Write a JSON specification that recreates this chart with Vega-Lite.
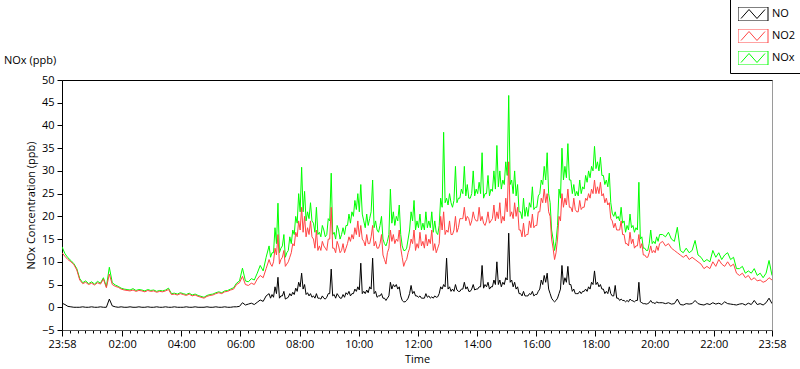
{
  "$schema": "https://vega.github.io/schema/vega-lite/v6.json",
  "width": 710,
  "height": 250,
  "autosize": {"type": "none"},
  "padding": {"left": 62, "top": 80, "right": 28, "bottom": 39},
  "background": "#ffffff",
  "title": {"text": "NOx (ppb)", "anchor": "start", "frame": "group", "dx": -58, "offset": -67, "fontSize": 11, "fontWeight": "normal", "font": "Open Sans", "color": "#000000"},
  "config": {
    "view": {"stroke": "#9a9a9a", "strokeWidth": 1},
    "font": "Open Sans",
    "axis": {"labelFont": "Open Sans", "labelFontSize": 11, "labelColor": "#000000", "titleFont": "Open Sans", "titleFontSize": 11, "titleFontWeight": "normal", "titleColor": "#000000", "tickColor": "#000000", "domainColor": "#000000", "grid": false, "labelOverlap": false},
    "axisY": {"labelOverlap": false},
    "legend": {"labelFont": "Open Sans", "labelFontSize": 11, "labelColor": "#000000"}
  },
  "data": {"values": [
    {"m":0,"NO":0.9,"NO2":12.0,"NOx":13.3},{"m":6,"NO":0.6,"NO2":11.2,"NOx":11.8},{"m":12,"NO":0.2,"NO2":10.5,"NOx":10.9},{"m":18,"NO":0.1,"NO2":10.0,"NOx":10.3},{"m":24,"NO":0.0,"NO2":9.4,"NOx":9.6},{"m":30,"NO":0.0,"NO2":8.2,"NOx":8.5},{"m":36,"NO":0.0,"NO2":6.0,"NOx":6.3},{"m":42,"NO":0.1,"NO2":5.2,"NOx":5.4},{"m":48,"NO":0.0,"NO2":5.5,"NOx":5.8},{"m":54,"NO":0.0,"NO2":5.0,"NOx":5.2},
    {"m":60,"NO":0.1,"NO2":5.3,"NOx":5.6},{"m":66,"NO":0.0,"NO2":4.9,"NOx":5.1},{"m":72,"NO":0.0,"NO2":5.4,"NOx":5.7},{"m":78,"NO":0.1,"NO2":5.1,"NOx":5.3},{"m":84,"NO":0.0,"NO2":6.2,"NOx":6.5},{"m":90,"NO":0.0,"NO2":4.3,"NOx":4.5},{"m":96,"NO":1.8,"NO2":7.3,"NOx":8.8},{"m":102,"NO":0.3,"NO2":5.0,"NOx":5.4},{"m":108,"NO":0.1,"NO2":4.6,"NOx":4.9},{"m":114,"NO":0.0,"NO2":4.4,"NOx":4.6},
    {"m":120,"NO":0.1,"NO2":4.0,"NOx":4.2},{"m":126,"NO":0.0,"NO2":3.8,"NOx":4.0},{"m":132,"NO":0.0,"NO2":3.7,"NOx":3.9},{"m":138,"NO":0.1,"NO2":3.6,"NOx":3.8},{"m":144,"NO":0.0,"NO2":3.8,"NOx":4.1},{"m":150,"NO":0.0,"NO2":3.5,"NOx":3.7},{"m":156,"NO":0.1,"NO2":3.7,"NOx":3.9},{"m":162,"NO":0.0,"NO2":3.6,"NOx":3.8},{"m":168,"NO":0.0,"NO2":3.4,"NOx":3.6},{"m":174,"NO":0.1,"NO2":3.7,"NOx":3.9},
    {"m":180,"NO":0.0,"NO2":3.5,"NOx":3.7},{"m":186,"NO":0.0,"NO2":3.6,"NOx":3.8},{"m":192,"NO":0.1,"NO2":3.3,"NOx":3.5},{"m":198,"NO":0.0,"NO2":3.5,"NOx":3.7},{"m":204,"NO":0.0,"NO2":3.4,"NOx":3.6},{"m":210,"NO":0.1,"NO2":3.6,"NOx":3.8},{"m":216,"NO":0.0,"NO2":3.9,"NOx":4.2},{"m":222,"NO":0.0,"NO2":2.8,"NOx":3.0},{"m":228,"NO":0.1,"NO2":2.9,"NOx":3.1},{"m":234,"NO":0.0,"NO2":2.7,"NOx":2.9},
    {"m":240,"NO":0.0,"NO2":3.0,"NOx":3.2},{"m":246,"NO":0.0,"NO2":2.8,"NOx":3.0},{"m":252,"NO":0.1,"NO2":2.6,"NOx":2.8},{"m":258,"NO":0.0,"NO2":2.9,"NOx":3.1},{"m":264,"NO":0.0,"NO2":2.5,"NOx":2.7},{"m":270,"NO":0.1,"NO2":2.7,"NOx":2.9},{"m":276,"NO":0.0,"NO2":2.4,"NOx":2.6},{"m":282,"NO":0.0,"NO2":2.2,"NOx":2.4},{"m":288,"NO":0.0,"NO2":2.0,"NOx":2.2},{"m":294,"NO":0.1,"NO2":2.4,"NOx":2.6},
    {"m":300,"NO":0.0,"NO2":2.6,"NOx":2.8},{"m":306,"NO":0.0,"NO2":2.7,"NOx":2.9},{"m":312,"NO":0.1,"NO2":3.0,"NOx":3.2},{"m":318,"NO":0.0,"NO2":3.2,"NOx":3.4},{"m":324,"NO":0.0,"NO2":3.0,"NOx":3.2},{"m":330,"NO":0.1,"NO2":3.4,"NOx":3.6},{"m":336,"NO":0.0,"NO2":3.5,"NOx":3.7},{"m":342,"NO":0.0,"NO2":3.8,"NOx":4.0},{"m":348,"NO":0.1,"NO2":4.0,"NOx":4.3},{"m":354,"NO":0.1,"NO2":5.0,"NOx":5.3},
    {"m":360,"NO":0.2,"NO2":5.4,"NOx":5.8},{"m":366,"NO":1.0,"NO2":6.8,"NOx":8.6},{"m":372,"NO":0.5,"NO2":5.0,"NOx":5.8},{"m":378,"NO":0.7,"NO2":4.8,"NOx":5.6},{"m":384,"NO":0.9,"NO2":5.3,"NOx":6.3},{"m":390,"NO":0.6,"NO2":5.0,"NOx":6.0},{"m":396,"NO":1.1,"NO2":6.2,"NOx":7.5},{"m":402,"NO":1.6,"NO2":7.0,"NOx":9.2},{"m":408,"NO":1.3,"NO2":6.5,"NOx":8.0},{"m":414,"NO":2.5,"NO2":8.5,"NOx":11.0},
    {"m":420,"NO":3.0,"NO2":10.5,"NOx":13.5},{"m":426,"NO":2.8,"NO2":9.0,"NOx":12.0},{"m":432,"NO":4.5,"NO2":13.0,"NOx":17.5},{"m":438,"NO":6.6,"NO2":16.0,"NOx":22.9},{"m":444,"NO":2.5,"NO2":10.5,"NOx":13.0},{"m":450,"NO":3.5,"NO2":12.5,"NOx":16.0},{"m":456,"NO":2.0,"NO2":9.5,"NOx":12.0},{"m":462,"NO":3.0,"NO2":11.0,"NOx":15.5},{"m":468,"NO":3.3,"NO2":14.0,"NOx":17.0},{"m":474,"NO":4.2,"NO2":16.5,"NOx":20.0},
    {"m":480,"NO":5.5,"NO2":19.0,"NOx":25.0},{"m":486,"NO":7.5,"NO2":22.0,"NOx":30.8},{"m":492,"NO":5.0,"NO2":20.0,"NOx":25.5},{"m":498,"NO":3.2,"NO2":17.5,"NOx":21.0},{"m":504,"NO":3.0,"NO2":19.0,"NOx":23.0},{"m":510,"NO":2.5,"NO2":15.0,"NOx":18.5},{"m":516,"NO":3.0,"NO2":17.0,"NOx":22.0},{"m":522,"NO":2.0,"NO2":13.5,"NOx":16.5},{"m":528,"NO":2.5,"NO2":14.5,"NOx":18.0},{"m":534,"NO":1.8,"NO2":13.0,"NOx":15.5},
    {"m":540,"NO":3.0,"NO2":15.0,"NOx":19.5},{"m":546,"NO":8.4,"NO2":22.0,"NOx":29.5},{"m":552,"NO":2.8,"NO2":13.0,"NOx":16.5},{"m":558,"NO":3.0,"NO2":14.5,"NOx":18.0},{"m":564,"NO":2.0,"NO2":12.0,"NOx":15.0},{"m":570,"NO":2.8,"NO2":14.0,"NOx":17.5},{"m":576,"NO":3.2,"NO2":13.0,"NOx":18.0},{"m":582,"NO":3.5,"NO2":15.5,"NOx":20.5},{"m":588,"NO":3.0,"NO2":16.0,"NOx":21.0},{"m":594,"NO":4.0,"NO2":17.5,"NOx":23.5},
    {"m":600,"NO":4.5,"NO2":19.0,"NOx":25.0},{"m":606,"NO":9.7,"NO2":18.0,"NOx":27.0},{"m":612,"NO":3.5,"NO2":14.5,"NOx":19.0},{"m":618,"NO":3.8,"NO2":16.0,"NOx":20.5},{"m":624,"NO":4.5,"NO2":14.0,"NOx":19.5},{"m":630,"NO":10.8,"NO2":18.0,"NOx":28.0},{"m":636,"NO":3.5,"NO2":14.5,"NOx":19.0},{"m":642,"NO":2.5,"NO2":13.0,"NOx":16.5},{"m":648,"NO":3.0,"NO2":16.0,"NOx":20.0},{"m":654,"NO":2.0,"NO2":10.5,"NOx":14.0},
    {"m":660,"NO":2.0,"NO2":12.0,"NOx":14.5},{"m":666,"NO":5.5,"NO2":17.0,"NOx":26.0},{"m":672,"NO":5.0,"NO2":16.0,"NOx":21.0},{"m":678,"NO":5.0,"NO2":15.0,"NOx":20.0},{"m":684,"NO":4.5,"NO2":17.0,"NOx":22.5},{"m":690,"NO":1.5,"NO2":11.0,"NOx":13.5},{"m":696,"NO":1.2,"NO2":10.0,"NOx":12.5},{"m":702,"NO":2.0,"NO2":12.0,"NOx":15.0},{"m":708,"NO":4.8,"NO2":15.0,"NOx":21.0},{"m":714,"NO":3.5,"NO2":17.0,"NOx":23.5},
    {"m":720,"NO":2.5,"NO2":14.0,"NOx":19.0},{"m":726,"NO":2.5,"NO2":16.5,"NOx":20.5},{"m":732,"NO":2.0,"NO2":14.5,"NOx":18.5},{"m":738,"NO":3.0,"NO2":16.0,"NOx":21.0},{"m":744,"NO":2.5,"NO2":15.0,"NOx":19.0},{"m":750,"NO":2.3,"NO2":17.0,"NOx":21.0},{"m":756,"NO":2.5,"NO2":14.0,"NOx":19.0},{"m":762,"NO":2.3,"NO2":13.0,"NOx":16.0},{"m":768,"NO":4.5,"NO2":20.0,"NOx":24.0},{"m":774,"NO":5.0,"NO2":21.0,"NOx":38.5},
    {"m":780,"NO":10.8,"NO2":17.0,"NOx":24.0},{"m":786,"NO":4.5,"NO2":19.0,"NOx":25.0},{"m":792,"NO":4.0,"NO2":16.0,"NOx":22.0},{"m":798,"NO":5.0,"NO2":20.0,"NOx":31.0},{"m":804,"NO":3.5,"NO2":17.5,"NOx":24.0},{"m":810,"NO":4.0,"NO2":19.5,"NOx":26.0},{"m":816,"NO":5.5,"NO2":22.0,"NOx":31.0},{"m":822,"NO":4.5,"NO2":20.0,"NOx":27.0},{"m":828,"NO":3.5,"NO2":18.0,"NOx":24.0},{"m":834,"NO":5.0,"NO2":21.0,"NOx":30.0},
    {"m":840,"NO":4.0,"NO2":19.0,"NOx":26.0},{"m":846,"NO":4.5,"NO2":22.0,"NOx":27.5},{"m":852,"NO":9.2,"NO2":20.0,"NOx":34.0},{"m":858,"NO":5.0,"NO2":18.0,"NOx":25.0},{"m":864,"NO":5.5,"NO2":21.0,"NOx":29.0},{"m":870,"NO":4.5,"NO2":19.0,"NOx":26.0},{"m":876,"NO":6.0,"NO2":22.5,"NOx":30.0},{"m":882,"NO":10.0,"NO2":21.0,"NOx":35.6},{"m":888,"NO":6.0,"NO2":23.0,"NOx":30.0},{"m":894,"NO":5.5,"NO2":20.0,"NOx":28.0},
    {"m":900,"NO":6.5,"NO2":24.0,"NOx":32.0},{"m":906,"NO":16.3,"NO2":32.0,"NOx":46.6},{"m":912,"NO":6.0,"NO2":21.0,"NOx":28.0},{"m":918,"NO":5.5,"NO2":23.0,"NOx":30.0},{"m":924,"NO":4.5,"NO2":22.0,"NOx":27.0},{"m":930,"NO":3.0,"NO2":17.0,"NOx":21.0},{"m":936,"NO":3.5,"NO2":18.5,"NOx":24.0},{"m":942,"NO":2.5,"NO2":16.0,"NOx":22.0},{"m":948,"NO":3.0,"NO2":19.0,"NOx":23.0},{"m":954,"NO":3.5,"NO2":20.5,"NOx":26.5},
    {"m":960,"NO":2.8,"NO2":18.0,"NOx":22.0},{"m":966,"NO":3.5,"NO2":21.0,"NOx":24.5},{"m":972,"NO":6.0,"NO2":24.0,"NOx":28.0},{"m":978,"NO":7.0,"NO2":26.0,"NOx":31.0},{"m":984,"NO":7.5,"NO2":25.0,"NOx":34.0},{"m":990,"NO":3.0,"NO2":20.0,"NOx":23.0},{"m":996,"NO":1.5,"NO2":13.0,"NOx":15.0},{"m":1002,"NO":1.5,"NO2":12.0,"NOx":14.5},{"m":1008,"NO":3.0,"NO2":20.0,"NOx":26.0},{"m":1014,"NO":9.2,"NO2":25.0,"NOx":35.0},
    {"m":1020,"NO":6.5,"NO2":24.0,"NOx":31.0},{"m":1026,"NO":9.0,"NO2":26.0,"NOx":36.0},{"m":1032,"NO":5.0,"NO2":22.0,"NOx":28.0},{"m":1038,"NO":4.0,"NO2":24.0,"NOx":27.0},{"m":1044,"NO":3.0,"NO2":21.0,"NOx":25.5},{"m":1050,"NO":3.5,"NO2":23.5,"NOx":28.0},{"m":1056,"NO":3.5,"NO2":22.0,"NOx":26.5},{"m":1062,"NO":4.0,"NO2":24.0,"NOx":29.0},{"m":1068,"NO":4.5,"NO2":25.0,"NOx":30.0},{"m":1074,"NO":5.5,"NO2":26.0,"NOx":31.0},
    {"m":1080,"NO":8.0,"NO2":28.0,"NOx":35.4},{"m":1086,"NO":5.5,"NO2":26.5,"NOx":32.0},{"m":1092,"NO":5.0,"NO2":27.5,"NOx":33.0},{"m":1098,"NO":4.0,"NO2":25.0,"NOx":29.0},{"m":1104,"NO":3.5,"NO2":24.0,"NOx":28.0},{"m":1110,"NO":4.5,"NO2":23.0,"NOx":29.5},{"m":1116,"NO":2.5,"NO2":19.0,"NOx":20.7},{"m":1122,"NO":4.8,"NO2":18.5,"NOx":21.0},{"m":1128,"NO":2.0,"NO2":17.0,"NOx":20.0},{"m":1134,"NO":1.8,"NO2":19.0,"NOx":22.0},
    {"m":1140,"NO":1.5,"NO2":16.0,"NOx":19.0},{"m":1146,"NO":1.5,"NO2":14.0,"NOx":18.0},{"m":1152,"NO":1.8,"NO2":16.5,"NOx":20.5},{"m":1158,"NO":1.4,"NO2":15.0,"NOx":18.0},{"m":1164,"NO":1.5,"NO2":13.5,"NOx":17.5},{"m":1170,"NO":5.5,"NO2":16.0,"NOx":27.5},{"m":1176,"NO":1.0,"NO2":14.0,"NOx":15.5},{"m":1182,"NO":0.8,"NO2":11.5,"NOx":13.0},{"m":1188,"NO":0.8,"NO2":11.0,"NOx":12.5},{"m":1194,"NO":1.5,"NO2":13.5,"NOx":17.0},
    {"m":1200,"NO":1.0,"NO2":12.5,"NOx":14.5},{"m":1206,"NO":1.2,"NO2":13.5,"NOx":15.5},{"m":1212,"NO":1.0,"NO2":14.0,"NOx":16.0},{"m":1218,"NO":1.0,"NO2":14.5,"NOx":16.0},{"m":1224,"NO":0.8,"NO2":13.5,"NOx":15.5},{"m":1230,"NO":1.0,"NO2":14.0,"NOx":16.5},{"m":1236,"NO":0.7,"NO2":13.0,"NOx":15.0},{"m":1242,"NO":0.8,"NO2":12.5,"NOx":14.5},{"m":1248,"NO":1.8,"NO2":12.0,"NOx":17.6},{"m":1254,"NO":0.6,"NO2":11.5,"NOx":12.5},
    {"m":1260,"NO":0.5,"NO2":11.0,"NOx":12.0},{"m":1266,"NO":0.8,"NO2":11.5,"NOx":13.0},{"m":1272,"NO":0.7,"NO2":10.5,"NOx":12.0},{"m":1278,"NO":0.8,"NO2":11.0,"NOx":12.5},{"m":1284,"NO":1.5,"NO2":10.5,"NOx":14.7},{"m":1290,"NO":0.8,"NO2":10.0,"NOx":11.5},{"m":1296,"NO":0.6,"NO2":9.5,"NOx":11.0},{"m":1302,"NO":0.5,"NO2":8.5,"NOx":10.0},{"m":1308,"NO":0.8,"NO2":9.0,"NOx":10.5},{"m":1314,"NO":0.6,"NO2":8.5,"NOx":10.0},
    {"m":1320,"NO":1.0,"NO2":10.0,"NOx":12.5},{"m":1326,"NO":0.7,"NO2":9.0,"NOx":11.0},{"m":1332,"NO":0.9,"NO2":10.5,"NOx":12.0},{"m":1338,"NO":0.6,"NO2":9.5,"NOx":10.5},{"m":1344,"NO":1.2,"NO2":9.0,"NOx":11.5},{"m":1350,"NO":0.8,"NO2":10.0,"NOx":12.0},{"m":1356,"NO":0.7,"NO2":9.0,"NOx":10.5},{"m":1362,"NO":0.6,"NO2":9.5,"NOx":11.0},{"m":1368,"NO":0.5,"NO2":7.5,"NOx":8.5},{"m":1374,"NO":0.7,"NO2":7.0,"NOx":8.5},
    {"m":1380,"NO":0.8,"NO2":7.5,"NOx":9.0},{"m":1386,"NO":0.5,"NO2":6.5,"NOx":7.5},{"m":1392,"NO":0.9,"NO2":7.0,"NOx":8.0},{"m":1398,"NO":0.6,"NO2":6.0,"NOx":7.5},{"m":1404,"NO":1.5,"NO2":6.5,"NOx":8.5},{"m":1410,"NO":0.6,"NO2":5.8,"NOx":7.0},{"m":1416,"NO":0.8,"NO2":6.0,"NOx":7.5},{"m":1422,"NO":0.5,"NO2":5.5,"NOx":6.5},{"m":1428,"NO":1.0,"NO2":5.8,"NOx":7.5},{"m":1434,"NO":2.0,"NO2":6.5,"NOx":10.3},
    {"m":1440,"NO":0.8,"NO2":6.0,"NOx":7.0},
    {"m":423,"NO":2.0,"NO2":9.5,"NOx":11.0},{"m":429,"NO":2.2,"NO2":10.0,"NOx":12.0},{"m":435,"NO":3.0,"NO2":11.5,"NOx":14.0},{"m":441,"NO":2.0,"NO2":9.5,"NOx":12.0},{"m":447,"NO":2.5,"NO2":11.0,"NOx":13.5},{"m":453,"NO":1.8,"NO2":9.0,"NOx":11.0},{"m":459,"NO":2.2,"NO2":10.0,"NOx":12.5},{"m":465,"NO":2.5,"NO2":12.0,"NOx":14.0},{"m":471,"NO":2.8,"NO2":13.5,"NOx":16.0},{"m":477,"NO":3.5,"NO2":15.5,"NOx":18.5},
    {"m":483,"NO":4.5,"NO2":17.0,"NOx":21.0},{"m":489,"NO":4.0,"NO2":16.5,"NOx":21.0},{"m":495,"NO":2.8,"NO2":15.5,"NOx":19.0},{"m":501,"NO":2.5,"NO2":16.0,"NOx":19.5},{"m":507,"NO":2.2,"NO2":15.5,"NOx":19.0},{"m":513,"NO":2.0,"NO2":13.0,"NOx":16.5},{"m":519,"NO":2.0,"NO2":12.5,"NOx":16.0},{"m":525,"NO":1.8,"NO2":12.5,"NOx":15.5},{"m":531,"NO":2.0,"NO2":13.5,"NOx":17.0},{"m":537,"NO":2.2,"NO2":12.5,"NOx":16.0},
    {"m":543,"NO":3.0,"NO2":15.0,"NOx":19.0},{"m":549,"NO":2.5,"NO2":13.0,"NOx":16.0},{"m":555,"NO":2.0,"NO2":12.0,"NOx":15.0},{"m":561,"NO":2.5,"NO2":13.5,"NOx":17.0},{"m":567,"NO":2.0,"NO2":12.5,"NOx":16.0},{"m":573,"NO":2.2,"NO2":12.0,"NOx":16.0},{"m":579,"NO":2.8,"NO2":14.0,"NOx":18.0},{"m":585,"NO":2.5,"NO2":14.5,"NOx":18.5},{"m":591,"NO":3.0,"NO2":15.0,"NOx":20.0},{"m":597,"NO":3.5,"NO2":16.0,"NOx":21.5},
    {"m":603,"NO":3.8,"NO2":15.5,"NOx":21.0},{"m":609,"NO":3.0,"NO2":15.0,"NOx":20.5},{"m":615,"NO":3.0,"NO2":13.5,"NOx":17.5},{"m":621,"NO":3.2,"NO2":14.0,"NOx":18.0},{"m":627,"NO":4.0,"NO2":15.5,"NOx":21.0},{"m":633,"NO":3.0,"NO2":13.5,"NOx":17.5},{"m":639,"NO":2.2,"NO2":13.0,"NOx":17.0},{"m":645,"NO":2.5,"NO2":14.0,"NOx":18.0},{"m":651,"NO":2.0,"NO2":11.5,"NOx":15.0},{"m":657,"NO":1.5,"NO2":9.5,"NOx":13.5},
    {"m":663,"NO":2.5,"NO2":13.0,"NOx":16.0},{"m":669,"NO":4.0,"NO2":14.5,"NOx":18.5},{"m":675,"NO":4.5,"NO2":14.0,"NOx":18.0},{"m":681,"NO":4.0,"NO2":14.5,"NOx":19.0},{"m":687,"NO":2.5,"NO2":13.0,"NOx":16.0},{"m":693,"NO":1.2,"NO2":9.0,"NOx":12.5},{"m":699,"NO":1.5,"NO2":10.5,"NOx":13.0},{"m":705,"NO":3.0,"NO2":13.0,"NOx":17.0},{"m":711,"NO":3.0,"NO2":14.0,"NOx":19.0},{"m":717,"NO":2.5,"NO2":12.5,"NOx":17.0},
    {"m":723,"NO":2.2,"NO2":13.0,"NOx":17.5},{"m":729,"NO":2.0,"NO2":13.5,"NOx":17.0},{"m":735,"NO":2.0,"NO2":13.0,"NOx":17.0},{"m":741,"NO":2.2,"NO2":13.5,"NOx":17.5},{"m":747,"NO":2.0,"NO2":14.0,"NOx":17.5},{"m":753,"NO":2.0,"NO2":12.5,"NOx":16.5},{"m":759,"NO":2.2,"NO2":12.0,"NOx":16.5},{"m":765,"NO":3.0,"NO2":14.0,"NOx":18.0},{"m":771,"NO":4.0,"NO2":17.0,"NOx":22.0},{"m":777,"NO":4.5,"NO2":16.0,"NOx":23.0},
    {"m":783,"NO":4.0,"NO2":16.5,"NOx":22.5},{"m":789,"NO":3.5,"NO2":16.0,"NOx":23.0},{"m":795,"NO":3.5,"NO2":17.0,"NOx":23.5},{"m":801,"NO":3.8,"NO2":16.5,"NOx":23.0},{"m":807,"NO":3.5,"NO2":19.5,"NOx":24.0},{"m":813,"NO":4.0,"NO2":19.5,"NOx":25.0},{"m":819,"NO":4.0,"NO2":19.0,"NOx":24.5},{"m":825,"NO":3.5,"NO2":19.5,"NOx":24.0},{"m":831,"NO":4.0,"NO2":19.0,"NOx":25.0},{"m":837,"NO":3.8,"NO2":19.5,"NOx":24.5},
    {"m":843,"NO":4.0,"NO2":19.0,"NOx":25.0},{"m":849,"NO":4.5,"NO2":19.0,"NOx":25.0},{"m":855,"NO":4.2,"NO2":18.5,"NOx":24.0},{"m":861,"NO":4.5,"NO2":19.0,"NOx":25.0},{"m":867,"NO":4.0,"NO2":18.5,"NOx":24.5},{"m":873,"NO":4.5,"NO2":19.5,"NOx":25.5},{"m":879,"NO":5.0,"NO2":19.0,"NOx":26.0},{"m":885,"NO":5.0,"NO2":19.5,"NOx":26.5},{"m":891,"NO":4.5,"NO2":18.5,"NOx":26.0},{"m":897,"NO":5.0,"NO2":19.0,"NOx":27.0},
    {"m":903,"NO":6.0,"NO2":21.0,"NOx":29.0},{"m":909,"NO":5.5,"NO2":20.0,"NOx":27.0},{"m":915,"NO":4.5,"NO2":19.5,"NOx":25.0},{"m":921,"NO":4.0,"NO2":20.0,"NOx":24.5},{"m":927,"NO":3.0,"NO2":17.0,"NOx":21.0},{"m":933,"NO":2.5,"NO2":15.5,"NOx":19.5},{"m":939,"NO":2.5,"NO2":15.5,"NOx":20.0},{"m":945,"NO":2.5,"NO2":16.0,"NOx":20.0},{"m":951,"NO":2.8,"NO2":17.5,"NOx":22.0},{"m":957,"NO":2.5,"NO2":17.5,"NOx":21.5},
    {"m":963,"NO":2.8,"NO2":18.0,"NOx":22.0},{"m":969,"NO":4.0,"NO2":21.0,"NOx":25.0},{"m":975,"NO":5.0,"NO2":23.0,"NOx":27.0},{"m":981,"NO":5.5,"NO2":23.0,"NOx":28.0},{"m":987,"NO":4.0,"NO2":21.0,"NOx":25.0},{"m":993,"NO":2.0,"NO2":15.0,"NOx":17.0},{"m":999,"NO":1.2,"NO2":10.5,"NOx":12.5},{"m":1005,"NO":2.0,"NO2":15.0,"NOx":18.0},{"m":1011,"NO":4.0,"NO2":19.0,"NOx":24.0},{"m":1017,"NO":5.0,"NO2":22.0,"NOx":28.0},
    {"m":1023,"NO":5.5,"NO2":22.5,"NOx":28.5},{"m":1029,"NO":5.0,"NO2":22.0,"NOx":28.0},{"m":1035,"NO":3.5,"NO2":21.0,"NOx":25.0},{"m":1041,"NO":3.0,"NO2":21.5,"NOx":24.5},{"m":1047,"NO":3.0,"NO2":21.0,"NOx":24.5},{"m":1053,"NO":3.0,"NO2":21.5,"NOx":25.0},{"m":1059,"NO":3.5,"NO2":22.0,"NOx":26.0},{"m":1065,"NO":3.5,"NO2":23.5,"NOx":27.5},{"m":1071,"NO":4.0,"NO2":24.0,"NOx":28.5},{"m":1077,"NO":5.0,"NO2":25.0,"NOx":30.0},
    {"m":1083,"NO":5.0,"NO2":25.0,"NOx":30.5},{"m":1089,"NO":4.5,"NO2":25.0,"NOx":30.0},{"m":1095,"NO":4.0,"NO2":24.5,"NOx":29.0},{"m":1101,"NO":3.0,"NO2":23.0,"NOx":27.0},{"m":1107,"NO":3.0,"NO2":22.5,"NOx":26.5},{"m":1113,"NO":3.0,"NO2":19.5,"NOx":23.0},{"m":1119,"NO":2.5,"NO2":17.5,"NOx":20.0},{"m":1125,"NO":2.0,"NO2":17.0,"NOx":19.5},{"m":1131,"NO":1.5,"NO2":17.0,"NOx":19.0},{"m":1137,"NO":1.5,"NO2":16.0,"NOx":18.5},
    {"m":1143,"NO":1.2,"NO2":14.0,"NOx":16.5},{"m":1149,"NO":1.2,"NO2":13.5,"NOx":17.0},{"m":1155,"NO":1.5,"NO2":14.0,"NOx":17.5},{"m":1161,"NO":1.2,"NO2":13.0,"NOx":16.5},{"m":1167,"NO":1.5,"NO2":13.5,"NOx":17.0},{"m":1173,"NO":1.2,"NO2":13.0,"NOx":15.0},{"m":1179,"NO":0.8,"NO2":11.5,"NOx":13.0},{"m":1185,"NO":0.7,"NO2":11.0,"NOx":12.5},{"m":1191,"NO":1.0,"NO2":12.0,"NOx":14.0},{"m":1197,"NO":1.0,"NO2":12.0,"NOx":14.0},
    {"m":1203,"NO":0.8,"NO2":12.0,"NOx":14.0},{"m":1209,"NO":1.0,"NO2":12.5,"NOx":14.5}
  ]},
  "resolve": {"axis": {"x": "independent"}},
  "layer": [
    {
      "mark": {"type": "line", "strokeWidth": 1, "clip": true},
      "encoding": {
        "x": {"field": "m", "type": "quantitative", "scale": {"domain": [0, 1440], "nice": false, "zero": false},
          "axis": {"orient": "bottom", "title": "Time", "titlePadding": 4,
            "values": [0,17,32,47,62,77,92,107,122,137,152,167,182,197,212,227,242,257,272,287,302,317,332,347,362,377,392,407,422,437,452,467,482,497,512,527,542,557,572,587,602,617,632,647,662,677,692,707,722,737,752,767,782,797,812,827,842,857,872,887,902,917,932,947,962,977,992,1007,1022,1037,1052,1067,1082,1097,1112,1127,1142,1157,1172,1187,1202,1217,1232,1247,1262,1277,1292,1307,1322,1337,1352,1367,1382,1397,1412,1427,1440],
            "labelExpr": "datum.value == 0 || datum.value == 1440 ? '23:58' : ((datum.value - 2) % 120 == 0 ? (((datum.value - 2) / 60) < 10 ? '0' : '') + ((datum.value - 2) / 60) + ':00' : '')",
            "tickSize": {"condition": {"test": "datum.value == 0 || datum.value == 1440 || (datum.value - 2) % 120 == 0", "value": 6}, "value": 3},
            "labelPadding": 2, "labelOverlap": false, "labelFlush": false, "domainColor": "#555555"}},
        "y": {"field": "NOx", "type": "quantitative", "title": "NOx Concentration (ppb)", "scale": {"domain": [-5, 50], "nice": false, "zero": false},
          "axis": {"values": [-5,0,5,10,15,20,25,30,35,40,45,50], "tickSize": 5, "labelPadding": 3, "titlePadding": 5, "labelFlush": false, "labelOverlap": false}},
        "color": {"datum": "NOx", "type": "nominal",
          "scale": {"domain": ["NO", "NO2", "NOx"], "range": ["#000000", "#ff4444", "#00ff00"]},
          "legend": {"title": null, "orient": "none", "legendX": 668, "legendY": -81, "padding": 8, "strokeColor": "#000000", "fillColor": "#ffffff",
            "symbolType": "M-11,-14H49V14H-11Z M-5,9L11,-9L27,9L43,-9", "symbolSize": 1, "symbolStrokeWidth": 1,
            "symbolOffset": 0, "labelOffset": 23, "labelAlign": "left", "clipHeight": 14, "rowPadding": 8, "labelFontSize": 11}}
      }
    },
    {
      "mark": {"type": "line", "strokeWidth": 1, "clip": true},
      "encoding": {
        "x": {"field": "m", "type": "quantitative", "axis": {"orient": "top", "title": null, "labels": false, "ticks": false, "domain": true, "domainColor": "#000000"}},
        "y": {"field": "NO2", "type": "quantitative", "title": "NOx Concentration (ppb)", "axis": {"values": [-5,0,5,10,15,20,25,30,35,40,45,50], "labelOverlap": false}},
        "color": {"datum": "NO2", "type": "nominal"}
      }
    },
    {
      "mark": {"type": "line", "strokeWidth": 1, "clip": true},
      "encoding": {
        "x": {"field": "m", "type": "quantitative", "axis": null},
        "y": {"field": "NO", "type": "quantitative", "title": "NOx Concentration (ppb)", "axis": {"values": [-5,0,5,10,15,20,25,30,35,40,45,50], "labelOverlap": false}},
        "color": {"datum": "NO", "type": "nominal"}
      }
    }
  ]
}
